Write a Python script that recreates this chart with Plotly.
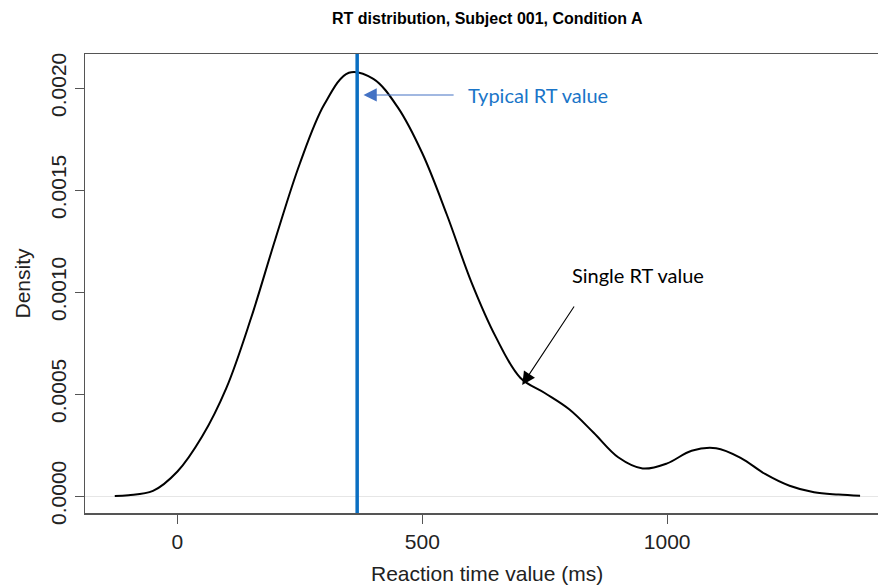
import plotly.graph_objects as go

# Density curve (reaction time in ms, density)
rt_ms = [-128, -100, -50, 0, 50, 100, 150, 200, 250, 300, 350, 400, 450,
         500, 550, 600, 650, 700, 750, 800, 850, 900, 950, 1000, 1050, 1100,
         1150, 1200, 1250, 1300, 1350, 1394]
density = [0.000000, 0.000004, 0.000025, 0.000120, 0.000290, 0.000530, 0.000870,
           0.001260, 0.001630, 0.001920, 0.002075, 0.002045, 0.001905,
           0.001680, 0.001380, 0.001050, 0.000780, 0.000580, 0.000505, 0.000425,
           0.000310, 0.000190, 0.000135, 0.000160, 0.000222, 0.000234,
           0.000187, 0.000108, 0.000050, 0.000018, 0.000007, 0.000001]

typical_rt = 367
x_ticks = [0, 500, 1000]
y_ticks = [0.0, 0.0005, 0.0010, 0.0015, 0.0020]
y_tick_labels = ["0.0000", "0.0005", "0.0010", "0.0015", "0.0020"]

title = "RT distribution, Subject 001, Condition A"
x_title = "Reaction time value (ms)"
y_title = "Density"

FONT = "Liberation Sans, Arial, sans-serif"
NOTE_FONT = "Lato, Open Sans, sans-serif"
AXCOL = "#555555"

fig = go.Figure()
fig.add_trace(go.Scatter(x=rt_ms, y=density, mode="lines",
                         line=dict(color="black", width=2, shape="spline", smoothing=1),
                         hoverinfo="skip", showlegend=False))

fig.add_shape(type="line", xref="x", yref="paper", x0=typical_rt, x1=typical_rt,
              y0=0, y1=1, line=dict(color="#0a6fc2", width=3.5))

fig.update_layout(
    width=878, height=585,
    margin=dict(l=85, r=0, t=54, b=72, autoexpand=False),
    paper_bgcolor="white", plot_bgcolor="white",
    showlegend=False,
    font=dict(family=FONT, color="black"),
)
fig.update_xaxes(range=[-188.8, 1430.6], tickvals=x_ticks, ticktext=[str(v) for v in x_ticks],
                 automargin=False,
                 ticks="outside", ticklen=9, tickcolor=AXCOL, tickwidth=1,
                 showline=True, linecolor=AXCOL, linewidth=1.5, mirror=True,
                 showgrid=False, zeroline=False,
                 tickfont=dict(size=21, family=FONT, color="#222222"))
fig.update_yaxes(range=[-0.0000833, 0.0021667], tickvals=y_ticks, ticktext=y_tick_labels,
                 tickangle=-90, automargin=False,
                 ticks="outside", ticklen=9, tickcolor=AXCOL, tickwidth=1,
                 showline=True, linecolor=AXCOL, linewidth=1.5, mirror=False,
                 showgrid=False, zeroline=True, zerolinecolor="#e6e6e6", zerolinewidth=1,
                 tickfont=dict(size=21, family=FONT, color="#222222"))

ann = []
ann.append(dict(text="<b>" + title + "</b>", xref="paper", yref="paper",
                x=(487 - 85) / 793, y=1, yshift=36, showarrow=False,
                font=dict(size=16, family=FONT, color="black"), xanchor="center", yanchor="middle"))
ann.append(dict(text=x_title, xref="paper", yref="paper",
                x=(487 - 85) / 793, y=0, yshift=-60, showarrow=False,
                font=dict(size=21, family=FONT, color="#222222"), xanchor="center", yanchor="middle"))
ann.append(dict(text=y_title, xref="paper", yref="paper", textangle=-90,
                x=0, xshift=-63, y=0.5, showarrow=False,
                font=dict(size=21, family=FONT, color="#222222"), xanchor="center", yanchor="middle"))
# arrows
ann.append(dict(text="", x=380, y=0.001966, xref="x", yref="y",
                ax=567, ay=0.001966, axref="x", ayref="y",
                showarrow=True, arrowhead=2, arrowsize=2.4, arrowwidth=1.1,
                arrowcolor="#4472c4"))
ann.append(dict(text="Typical RT value", x=590, y=0.001966, xref="x", yref="y",
                showarrow=False, xanchor="left", yanchor="middle",
                font=dict(size=20, family=NOTE_FONT, color="#1a75c8")))
ann.append(dict(text="", x=704, y=0.000544, xref="x", yref="y",
                ax=812, ay=0.000936, axref="x", ayref="y",
                showarrow=True, arrowhead=2, arrowsize=2.4, arrowwidth=1.1,
                arrowcolor="black"))
ann.append(dict(text="Single RT value", x=802, y=0.001083, xref="x", yref="y",
                showarrow=False, xanchor="left", yanchor="middle",
                font=dict(size=20, family=NOTE_FONT, color="black")))
fig.update_layout(annotations=ann)

fig.write_html("out.html", config={"displayModeBar": False, "staticPlot": True},
               post_script="document.body.style.margin='0';document.body.style.overflow='hidden';")
